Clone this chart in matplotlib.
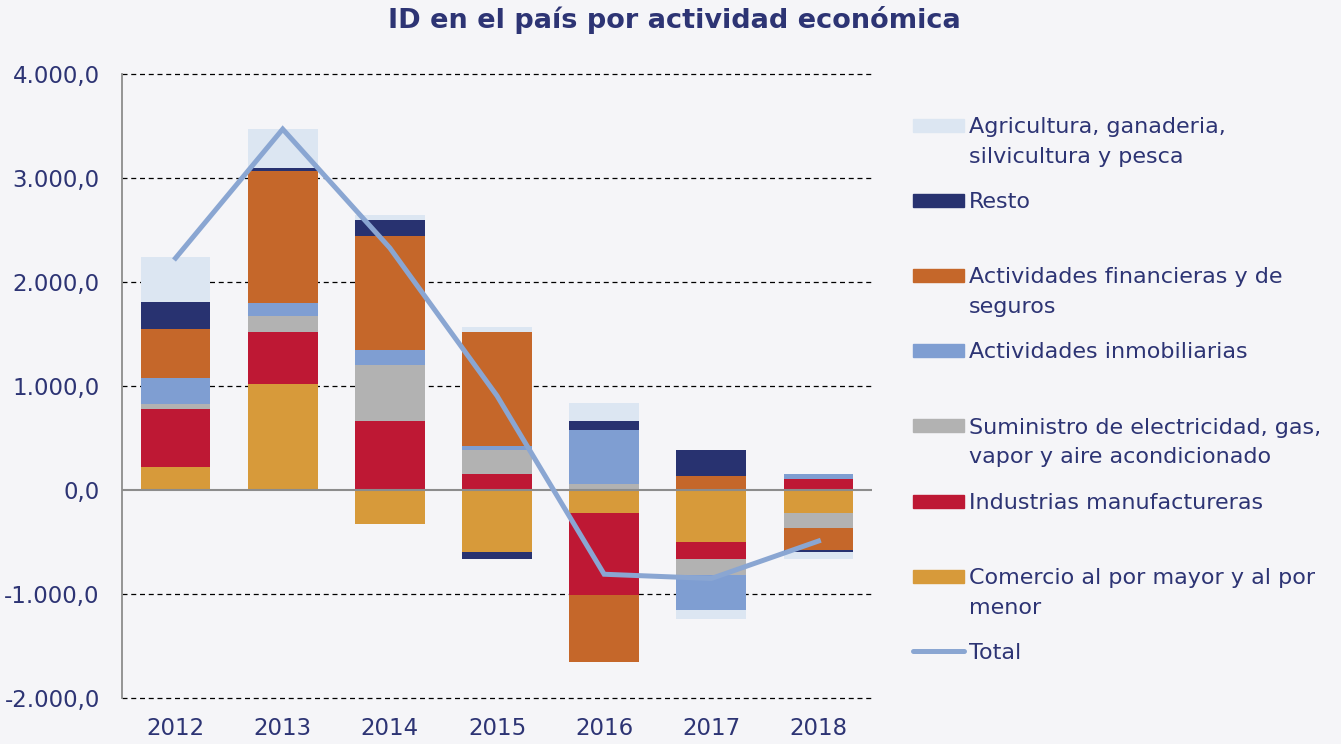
import matplotlib
matplotlib.use("Agg")
import matplotlib.pyplot as plt
import numpy as np
from matplotlib.patches import Rectangle
from matplotlib.lines import Line2D
from matplotlib.ticker import FuncFormatter, FixedLocator

years = ["2012", "2013", "2014", "2015", "2016", "2017", "2018"]

comercio = [217, 1018, -324, -597, -219, -499, -220]
industrias = [566, 505, 665, 153, -789, -163, 103]
suministro = [48, 147, 537, 230, 62, -160, -144]
inmobiliarias = [246, 125, 147, 41, 515, -329, 48]
financieras = [470, 1272, 1096, 1093, -649, 137, -211]
resto = [256, 32, 147, -64, 86, 246, -22]
agricultura = [434, 374, 48, 48, 173, -86, -64]
total = [2230, 3470, 2327, 906, -810, -851, -491]

series_names = [
    "Comercio al por mayor y al por\nmenor",
    "Industrias manufactureras",
    "Suministro de electricidad, gas,\nvapor y aire acondicionado",
    "Actividades inmobiliarias",
    "Actividades financieras y de\nseguros",
    "Resto",
    "Agricultura, ganaderia,\nsilvicultura y pesca",
]
series_values = [comercio, industrias, suministro, inmobiliarias, financieras, resto, agricultura]
colors = ["#D79A3A", "#BE1834", "#B2B2B2", "#7F9ED2", "#C5672A", "#283270", "#DCE6F2"]
line_color = "#8AA6D2"
text_color = "#2D3474"
bg = "#F5F5F8"

W, H = 1341, 744
fig = plt.figure(figsize=(W / 100, H / 100), dpi=100, facecolor=bg)
ax = fig.add_axes([122 / W, 1 - 698 / H, 750 / W, 624 / H], facecolor=bg)

x = np.arange(len(years))
pos_base = np.zeros(len(years))
neg_base = np.zeros(len(years))
for vals, c in zip(series_values, colors):
    v = np.array(vals, dtype=float)
    base = np.where(v >= 0, pos_base, neg_base)
    ax.bar(x, v, bottom=base, width=0.65, color=c, zorder=2)
    pos_base += np.where(v >= 0, v, 0)
    neg_base += np.where(v < 0, v, 0)

ax.plot(x, total, color=line_color, lw=3.6, zorder=4, solid_joinstyle="miter")

ax.set_xlim(-0.5, 6.5)
ax.set_ylim(-2000, 4000)
ax.yaxis.set_major_locator(FixedLocator([-2000, -1000, 0, 1000, 2000, 3000, 4000]))
ax.yaxis.set_major_formatter(FuncFormatter(
    lambda v, p: f"{v:,.1f}".replace(",", "X").replace(".", ",").replace("X", ".")))
for g in [-2000, -1000, 1000, 2000, 3000, 4000]:
    ax.axhline(g, color="black", lw=0.9, ls=(0, (4, 3)), zorder=1, clip_on=False)
ax.axhline(0, color="#8C8C8C", lw=1.5, zorder=3)

ax.set_xticks(x)
ax.set_xticklabels(years)
ax.tick_params(axis="both", length=0, labelsize=16.5, labelcolor=text_color)
ax.tick_params(axis="x", pad=14)
ax.tick_params(axis="y", pad=16)
for s in ["top", "right", "bottom"]:
    ax.spines[s].set_visible(False)
ax.spines["left"].set_color("#8C8C8C")
ax.spines["left"].set_linewidth(1.3)

fig.text(674 / W, 1 - 20 / H, "ID en el país por actividad económica",
         ha="center", va="center", fontsize=19.5, fontweight="bold",
         color=text_color)

# legend drawn by hand so the key sits on the first line of each label
order = [6, 5, 4, 3, 2, 1, 0]
for i, k in enumerate(order):
    cy = 125.5 + 75.1 * i
    fig.add_artist(Rectangle((913 / W, 1 - (cy + 6.5) / H), 51 / W, 13 / H,
                             transform=fig.transFigure, color=colors[k]))
    for j, line in enumerate(series_names[k].split("\n")):
        fig.text(969 / W, 1 - (cy + 7.6 + 30 * j) / H, line, ha="left",
                 va="baseline", fontsize=16, color=text_color)
cy = 125.5 + 75.1 * 7
fig.add_artist(Line2D([913 / W, 964 / W], [1 - cy / H, 1 - cy / H],
                      transform=fig.transFigure, color=line_color, lw=3.6,
                      solid_capstyle="round"))
fig.text(969 / W, 1 - (cy + 7.6) / H, "Total", ha="left", va="baseline",
         fontsize=16, color=text_color)

fig.savefig("out.png", dpi=100, facecolor=bg)
